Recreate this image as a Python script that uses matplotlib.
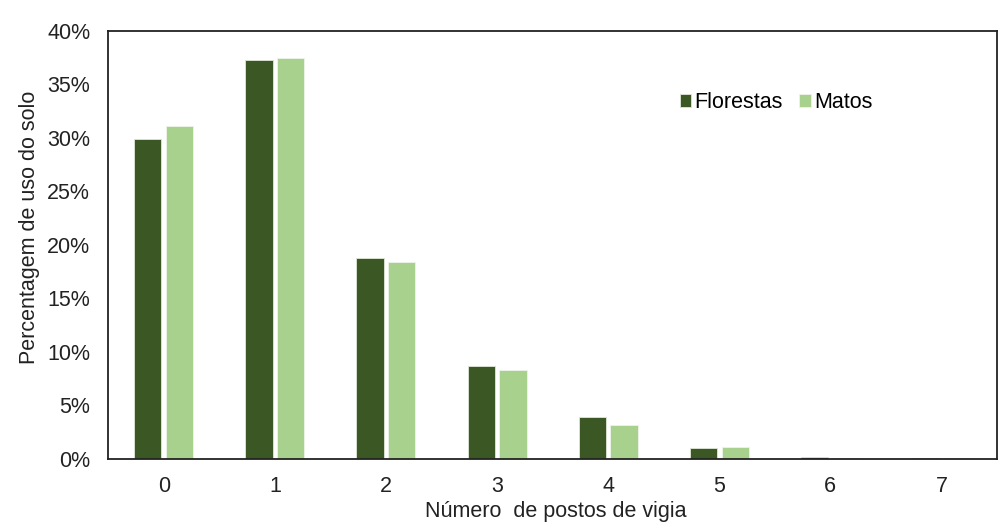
import numpy as np
import matplotlib
matplotlib.use("Agg")
import matplotlib.pyplot as plt
from matplotlib.ticker import PercentFormatter

# data (percent of land use)
categorias = ["0", "1", "2", "3", "4", "5", "6", "7"]
florestas = [29.9, 37.3, 18.8, 8.7, 3.9, 1.0, 0.15, 0.08]
matos = [31.1, 37.5, 18.4, 8.3, 3.2, 1.1, 0.1, 0.05]

plt.rcParams['font.family'] = ['Liberation Sans', 'DejaVu Sans']
FS = 15.5

fig = plt.figure(figsize=(10.02, 5.25), dpi=100)
ax = fig.add_axes([0.108, 0.126, 0.887, 0.815])

x = np.arange(len(categorias))
w = 0.245
ax.bar(x - 0.143, florestas, w, color="#3A5724", edgecolor="#dfe6d8",
       linewidth=0.6, label="Florestas")
ax.bar(x + 0.143, matos, w, color="#A9D18E", edgecolor="#eef5e8",
       linewidth=0.6, label="Matos")

ax.set_xlim(-0.5, 7.5)
ax.set_ylim(0, 40)
ax.set_yticks(np.arange(0, 41, 5))
ax.yaxis.set_major_formatter(PercentFormatter(decimals=0))
ax.set_xticks(x)
ax.set_xticklabels(categorias)
ax.tick_params(length=0, labelsize=FS, colors="#222222")
ax.tick_params(axis="x", pad=12)
ax.tick_params(axis="y", pad=13)

for s in ax.spines.values():
    s.set_linewidth(1.3)
    s.set_color("#222222")

ax.set_ylabel("Percentagem de uso do solo", fontsize=FS, color="#222222")
ax.yaxis.set_label_coords(-0.077, 0.54)
ax.set_xlabel("Número  de postos de vigia", fontsize=FS, color="#222222", labelpad=0)
ax.xaxis.set_label_coords(0.503, -0.098)

ax.legend(loc="center left", bbox_to_anchor=(0.621, 0.832), ncol=2, frameon=False,
          fontsize=FS, handlelength=0.55, handleheight=0.55, handletextpad=0.15,
          columnspacing=0.75)

fig.savefig("out.png", dpi=100)
